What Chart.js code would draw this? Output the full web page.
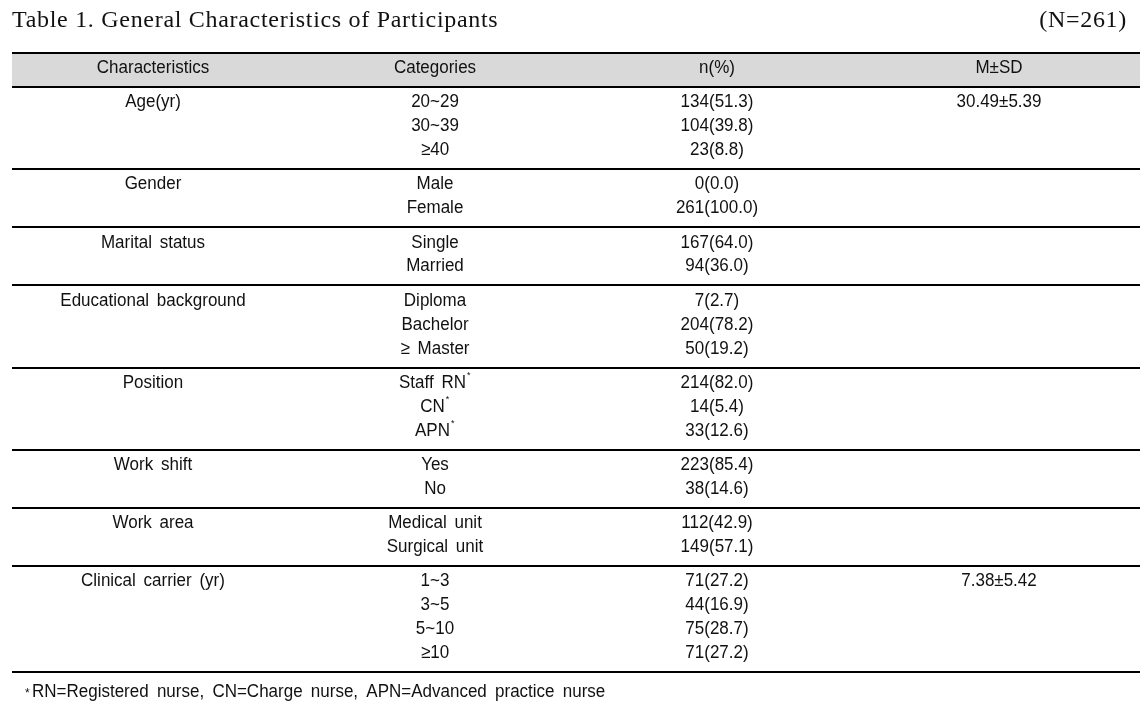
<!DOCTYPE html>
<html>
<head>
<meta charset="utf-8">
<script src="https://cdn.jsdelivr.net/npm/chart.js@4"></script>
<style>
  html, body { margin: 0; padding: 0; background: #fff; }
  #wrap { width: 1147px; height: 710px; position: relative; }
</style>
</head>
<body>
<div id="wrap"><canvas id="tableChart"></canvas></div>
<script>
// table content
const tableTitle = 'Table 1. General Characteristics of Participants';
const sampleNote = '(N=261)';
const footnote = 'RN=Registered nurse, CN=Charge nurse, APN=Advanced practice nurse';

const columns = ['Characteristics', 'Categories', 'n(%)', 'M±SD'];

const characteristics = ['Age(yr)', 'Gender', 'Marital status', 'Educational background',
  'Position', 'Work shift', 'Work area', 'Clinical carrier (yr)'];

const categories = [
  ['20~29', '30~39', '≥40'],
  ['Male', 'Female'],
  ['Single', 'Married'],
  ['Diploma', 'Bachelor', '≥ Master'],
  ['Staff RN*', 'CN*', 'APN*'],
  ['Yes', 'No'],
  ['Medical unit', 'Surgical unit'],
  ['1~3', '3~5', '5~10', '≥10'],
];

const counts = [
  [134, 104, 23],
  [0, 261],
  [167, 94],
  [7, 204, 50],
  [214, 14, 33],
  [223, 38],
  [112, 149],
  [71, 44, 75, 71],
];

const percents = [
  [51.3, 39.8, 8.8],
  [0.0, 100.0],
  [64.0, 36.0],
  [2.7, 78.2, 19.2],
  [82.0, 5.4, 12.6],
  [85.4, 14.6],
  [42.9, 57.1],
  [27.2, 16.9, 28.7, 27.2],
];

const meanSD = ['30.49±5.39', '', '', '', '', '', '', '7.38±5.42'];

// layout in "text line" units
const HEAD = 1.42, PAD_TOP = 0.14, PAD_BOTTOM = 0.30, HEAD_TEXT = 0.62;

let y = HEAD;
const groupBottom = [], lineY = [];
categories.forEach((cats) => {
  lineY.push(cats.map((c, i) => y + PAD_TOP + i + 0.5));
  y += PAD_TOP + cats.length + PAD_BOTTOM;
  groupBottom.push(y);
});
const totalRows = y;

// one dataset per column, one invisible point per cell
const cellTexts = [[], [], [], []];
const cellPoints = [[], [], [], []];
columns.forEach((c, i) => {
  cellTexts[i].push(c);
  cellPoints[i].push({ x: c, y: HEAD_TEXT });
});
categories.forEach((cats, g) => {
  cellTexts[0].push(characteristics[g]);
  cellPoints[0].push({ x: columns[0], y: lineY[g][0] });
  cats.forEach((cat, i) => {
    cellTexts[1].push(cat);
    cellPoints[1].push({ x: columns[1], y: lineY[g][i] });
    cellTexts[2].push(counts[g][i] + '(' + percents[g][i].toFixed(1) + ')');
    cellPoints[2].push({ x: columns[2], y: lineY[g][i] });
  });
  if (meanSD[g]) {
    cellTexts[3].push(meanSD[g]);
    cellPoints[3].push({ x: columns[3], y: lineY[g][0] });
  }
});

const BODY_FONT = '17px "Liberation Sans", Arial, sans-serif';
const STRETCH = 1.1; // reference glyphs are a bit taller

function tallText(ctx, txt, x, y) {
  ctx.save();
  ctx.translate(x, y);
  ctx.scale(1, STRETCH);
  ctx.fillText(txt, 0, 0);
  ctx.restore();
}

const tablePlugin = {
  id: 'tablePlugin',
  beforeDatasetsDraw(chart) {
    const { ctx, chartArea, scales } = chart;
    const yS = scales.y;
    ctx.save();
    // header band
    ctx.fillStyle = '#d9d9d9';
    ctx.fillRect(chartArea.left, yS.getPixelForValue(0), chartArea.right - chartArea.left,
      yS.getPixelForValue(HEAD) - yS.getPixelForValue(0));
    ctx.strokeStyle = '#000';
    ctx.lineWidth = 2;
    [0, HEAD, ...groupBottom].forEach(v => {
      const py = Math.round(yS.getPixelForValue(v));
      ctx.beginPath();
      ctx.moveTo(chartArea.left, py);
      ctx.lineTo(chartArea.right, py);
      ctx.stroke();
    });
    ctx.restore();
  },
  afterDatasetsDraw(chart) {
    const { ctx, chartArea } = chart;
    ctx.save();
    ctx.fillStyle = '#111';
    ctx.textBaseline = 'middle';
    ctx.wordSpacing = '3px';
    chart.data.datasets.forEach((ds, di) => {
      const meta = chart.getDatasetMeta(di);
      meta.data.forEach((pt, i) => {
        let txt = cellTexts[di][i];
        let sup = false;
        if (txt.endsWith('*')) { txt = txt.slice(0, -1); sup = true; }
        ctx.font = BODY_FONT;
        ctx.textAlign = 'left';
        const w = ctx.measureText(txt).width;
        const sw = sup ? 5 : 0;
        const x0 = pt.x - (w + sw) / 2;
        tallText(ctx, txt, x0, pt.y);
        if (sup) {
          ctx.font = '9px "Liberation Sans", Arial, sans-serif';
          ctx.fillText('*', x0 + w + 1, pt.y - 7);
        }
      });
    });

    // title and N
    ctx.wordSpacing = '0px';
    ctx.textBaseline = 'alphabetic';
    ctx.font = '24px "Liberation Serif", "DejaVu Serif", serif';
    ctx.letterSpacing = '0.7px';
    ctx.textAlign = 'left';
    ctx.fillText(tableTitle, chartArea.left, chartArea.top - 26);
    ctx.textAlign = 'right';
    ctx.fillText(sampleNote, chartArea.right - 13, chartArea.top - 26);
    ctx.letterSpacing = '0px';

    // footnote
    ctx.textBaseline = 'middle';
    ctx.textAlign = 'left';
    ctx.font = '12px "Liberation Sans", Arial, sans-serif';
    ctx.fillText('*', chartArea.left + 13, chartArea.bottom + 22);
    ctx.font = BODY_FONT;
    ctx.wordSpacing = '3.5px';
    tallText(ctx, footnote, chartArea.left + 20, chartArea.bottom + 20);
    ctx.restore();
  }
};

new Chart(document.getElementById('tableChart'), {
  type: 'line',
  data: {
    labels: columns,
    datasets: cellPoints.map((pts, i) => ({
      label: columns[i],
      data: pts,
      showLine: false,
      pointRadius: 0,
      pointHoverRadius: 0,
    })),
  },
  options: {
    responsive: true,
    maintainAspectRatio: false,
    animation: false,
    layout: { padding: { left: 12, right: 7, top: 53, bottom: 38 } },
    plugins: { legend: { display: false }, tooltip: { enabled: false } },
    scales: {
      x: { type: 'category', offset: true, display: false },
      y: { type: 'linear', reverse: true, min: 0, max: totalRows, display: false },
    },
  },
  plugins: [tablePlugin],
});
</script>
</body>
</html>
